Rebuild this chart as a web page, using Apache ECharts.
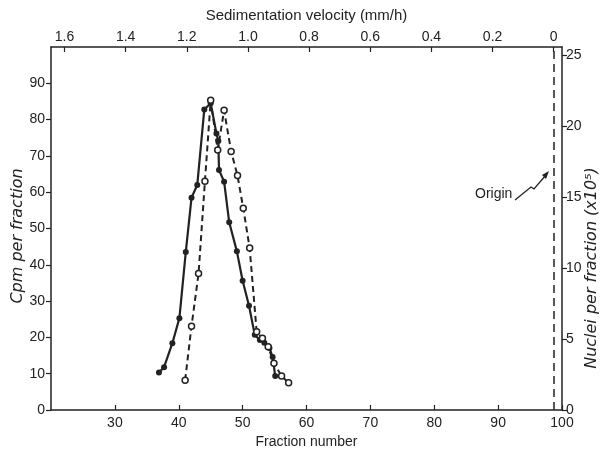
<!DOCTYPE html>
<html>
<head>
<meta charset="utf-8">
<script src="https://cdn.jsdelivr.net/npm/echarts@6/dist/echarts.min.js"></script>
<style>
html,body{margin:0;padding:0;background:#fff;}
#c{width:601px;height:454px;}
</style>
</head>
<body>
<div id="c"></div>
<script>
// ---- data ----
const cpmFractions = [36.9, 37.7, 39.0, 40.1, 41.1, 42.0, 42.9, 44.0, 45.0, 45.9, 46.2, 46.3, 47.1, 47.9, 49.1, 50.0, 51.0, 51.9, 52.7, 53.4, 54.2, 54.7, 55.1];
const cpmValues    = [10.3, 11.8, 18.4, 25.3, 43.5, 58.5, 62.0, 82.8, 84.5, 76.2, 74.1, 66.1, 62.9, 51.7, 43.7, 35.6, 28.7, 20.7, 19.3, 18.5, 17.1, 14.6, 9.4];

const nucleiFractions = [41.0, 42.0, 43.1, 44.1, 45.0, 46.1, 47.1, 48.2, 49.2, 50.1, 51.1, 52.2, 53.1, 54.0, 54.9, 56.1, 57.2];
const nucleiValues    = [2.1, 5.9, 9.6, 16.1, 21.8, 18.3, 21.1, 18.2, 16.5, 14.2, 11.4, 5.5, 5.05, 4.46, 3.29, 2.39, 1.92];

const originFraction = 98.7;

const fractionTicks = [30, 40, 50, 60, 70, 80, 90, 100];
const velocityTicks = [0, 0.2, 0.4, 0.6, 0.8, 1.0, 1.2, 1.4, 1.6];
const cpmTicks = [0, 10, 20, 30, 40, 50, 60, 70, 80, 90];
const nucleiTicks = [0, 5, 10, 15, 20, 25];

const leftTitle = 'Cpm per fraction';
const rightTitle = 'Nuclei per fraction (x10\u2075)';

// ---- chart ----
const ink = '#222';
const font = 'Liberation Sans';
const chart = echarts.init(document.getElementById('c'), null, {renderer: 'canvas'});

function axisBase(extra) {
  return Object.assign({
    axisLine: {show: true, onZero: false, lineStyle: {color: ink, width: 1.5}},
    splitLine: {show: false},
    nameTextStyle: {color: ink, fontFamily: font, fontSize: 14},
  }, extra);
}
const lbl = {color: ink, fontFamily: font, fontSize: 14};

const cpmData = cpmFractions.map((f, i) => [f, cpmValues[i]]);
const nucData = nucleiFractions.map((f, i) => [f, nucleiValues[i]]);

chart.setOption({
  animation: false,
  backgroundColor: '#fff',
  grid: {left: 51, right: 39, top: 47, bottom: 44, containLabel: false, outerBoundsMode: 'none'},
  xAxis: [
    axisBase({
      type: 'value', position: 'bottom', min: 20, max: 100,
      axisTick: {inside: true, length: 5, customValues: fractionTicks, lineStyle: {color: ink, width: 1.2}},
      axisLabel: Object.assign({customValues: fractionTicks, margin: 6}, lbl),
      name: 'Fraction number', nameLocation: 'middle', nameGap: 23
    }),
    axisBase({
      type: 'value', position: 'top', min: -0.027, max: 1.644, inverse: true,
      axisTick: {inside: true, length: 5, customValues: velocityTicks, lineStyle: {color: ink, width: 1.2}},
      axisLabel: Object.assign({customValues: velocityTicks, margin: 3,
        formatter: v => Math.abs(v) < 1e-9 ? '0' : v.toFixed(1)}, lbl),
      name: 'Sedimentation velocity (mm/h)', nameLocation: 'middle', nameGap: 24,
      nameTextStyle: {color: ink, fontFamily: font, fontSize: 15}
    })
  ],
  yAxis: [
    axisBase({
      type: 'value', position: 'left', min: 0, max: 100,
      axisTick: {inside: false, length: 5, customValues: cpmTicks, lineStyle: {color: ink, width: 1.2}},
      axisLabel: Object.assign({customValues: cpmTicks, margin: 6}, lbl)
    }),
    axisBase({
      type: 'value', position: 'right', min: 0, max: 25.55,
      axisTick: {inside: false, length: 5, customValues: nucleiTicks, lineStyle: {color: ink, width: 1.2}},
      axisLabel: Object.assign({customValues: nucleiTicks, margin: 4}, lbl)
    })
  ],
  series: [
    {
      name: 'Cpm', type: 'line', xAxisIndex: 0, yAxisIndex: 0, data: cpmData,
      symbol: 'circle', symbolSize: 6, z: 2,
      lineStyle: {color: ink, width: 2.2},
      itemStyle: {color: ink},
      markLine: {
        silent: true, symbol: 'none', label: {show: false},
        lineStyle: {color: ink, width: 1.5, type: [8, 5]},
        data: [{xAxis: originFraction}]
      }
    },
    {
      name: 'Nuclei', type: 'line', xAxisIndex: 0, yAxisIndex: 1, data: nucData,
      symbol: 'circle', symbolSize: 6, z: 3,
      lineStyle: {color: ink, width: 2, type: [6, 4]},
      itemStyle: {color: '#fff', borderColor: ink, borderWidth: 1.5}
    }
  ],
  graphic: [
    {type: 'text', x: 18, y: 236, rotation: Math.PI / 2,
      style: {text: leftTitle, fill: ink, font: 'italic 16px "DejaVu Sans"', align: 'center', verticalAlign: 'middle'}},
    {type: 'text', x: 592, y: 268, rotation: Math.PI / 2,
      style: {text: rightTitle, fill: ink, font: 'italic 16px "DejaVu Sans"', align: 'center', verticalAlign: 'middle'}},
    {type: 'text', left: 475, top: 187, style: {text: 'Origin', fill: ink, font: '14px "Liberation Sans"'}},
    {type: 'polyline', shape: {points: [[515, 200], [531, 187], [534, 189], [546, 175]]},
      style: {stroke: ink, lineWidth: 1.3, fill: null}},
    {type: 'polygon', shape: {points: [[549, 171], [542, 175], [546, 179]]}, style: {fill: ink}}
  ]
});
</script>
</body>
</html>
